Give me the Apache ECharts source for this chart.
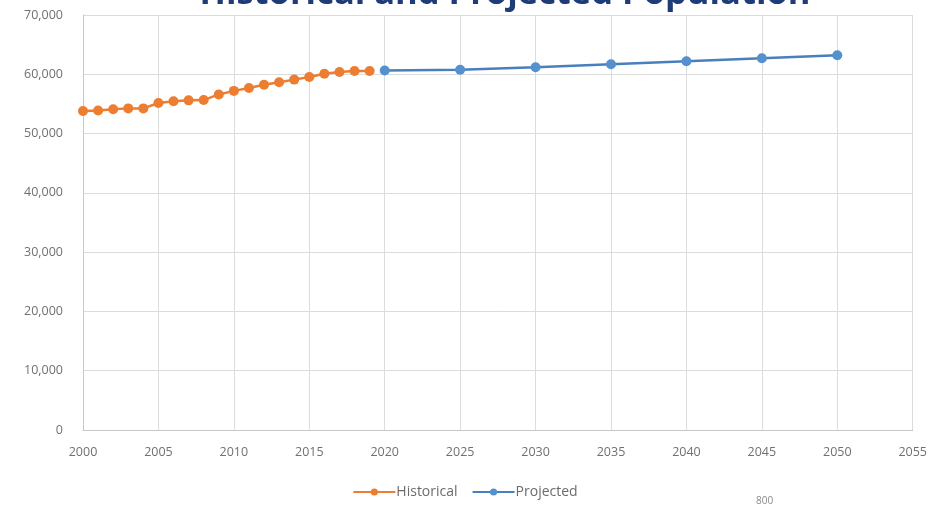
<!DOCTYPE html>
<html>
<head>
<meta charset="utf-8">
<script src="https://cdn.jsdelivr.net/npm/echarts@6/dist/echarts.min.js"></script>
<style>
  html, body { margin: 0; padding: 0; background: #fff; }
  #chart { width: 930px; height: 505px; }
</style>
</head>
<body>
<div id="chart"></div>
<script>
// Population by year: yearly history, five-year projections
const historicalYears = [2000, 2001, 2002, 2003, 2004, 2005, 2006, 2007, 2008, 2009,
                         2010, 2011, 2012, 2013, 2014, 2015, 2016, 2017, 2018, 2019];
const historicalValues = [53800, 53900, 54100, 54250, 54250, 55150, 55450, 55600, 55650, 56600,
                          57200, 57700, 58250, 58650, 59100, 59550, 60100, 60400, 60550, 60550];
const projectedYears = [2020, 2025, 2030, 2035, 2040, 2045, 2050];
const projectedValues = [60650, 60750, 61200, 61700, 62200, 62700, 63200];

const chart = echarts.init(document.getElementById('chart'), null, { renderer: 'canvas' });

const axisText = { color: '#707070', fontFamily: 'Open Sans', fontSize: 12.5 };

chart.setOption({
  animation: false,
  title: {
    text: 'Historical and Projected Population',
    left: 500,
    textAlign: 'center',
    top: -28,
    textStyle: { color: '#1f3b78', fontFamily: 'Open Sans', fontWeight: 'bold', fontSize: 34.5 }
  },
  grid: { left: 83, right: 14, top: 15, bottom: 75 },
  legend: {
    bottom: 1,
    left: 'center',
    itemWidth: 42,
    itemHeight: 9,
    itemGap: 14,
    textStyle: { color: '#6b6b6b', fontFamily: 'Open Sans', fontSize: 14, padding: [0, 0, 0, -4] },
    data: ['Historical', 'Projected']
  },
  xAxis: {
    type: 'value',
    min: 2000,
    max: 2055,
    interval: 5,
    axisLine: { show: true, lineStyle: { color: '#c8c8c8' } },
    axisTick: { show: false },
    splitLine: { show: true, lineStyle: { color: '#dcdcdc' } },
    axisLabel: Object.assign({ margin: 16, formatter: v => String(v) }, axisText)
  },
  yAxis: {
    type: 'value',
    min: 0,
    max: 70000,
    interval: 10000,
    axisLine: { show: true, lineStyle: { color: '#c8c8c8' } },
    axisTick: { show: false },
    splitLine: { show: true, lineStyle: { color: '#dcdcdc' } },
    axisLabel: Object.assign({ margin: 20, formatter: v => v.toLocaleString('en-US') }, axisText)
  },
  series: [
    {
      name: 'Historical',
      type: 'line',
      data: historicalYears.map((y, i) => [y, historicalValues[i]]),
      symbol: 'circle',
      symbolSize: 10,
      itemStyle: { color: '#ed7d31' },
      lineStyle: { color: '#ed7d31', width: 2.5 },
      z: 3
    },
    {
      name: 'Projected',
      type: 'line',
      data: projectedYears.map((y, i) => [y, projectedValues[i]]),
      symbol: 'circle',
      symbolSize: 10,
      itemStyle: { color: '#5590cf' },
      lineStyle: { color: '#4a7fbd', width: 2.5 },
      z: 4
    }
  ],
  graphic: [
    {
      type: 'text',
      left: 756,
      top: 496,
      style: { text: '800', fill: '#8a8a8a', font: '10px "Open Sans"' }
    }
  ]
});
</script>
</body>
</html>
